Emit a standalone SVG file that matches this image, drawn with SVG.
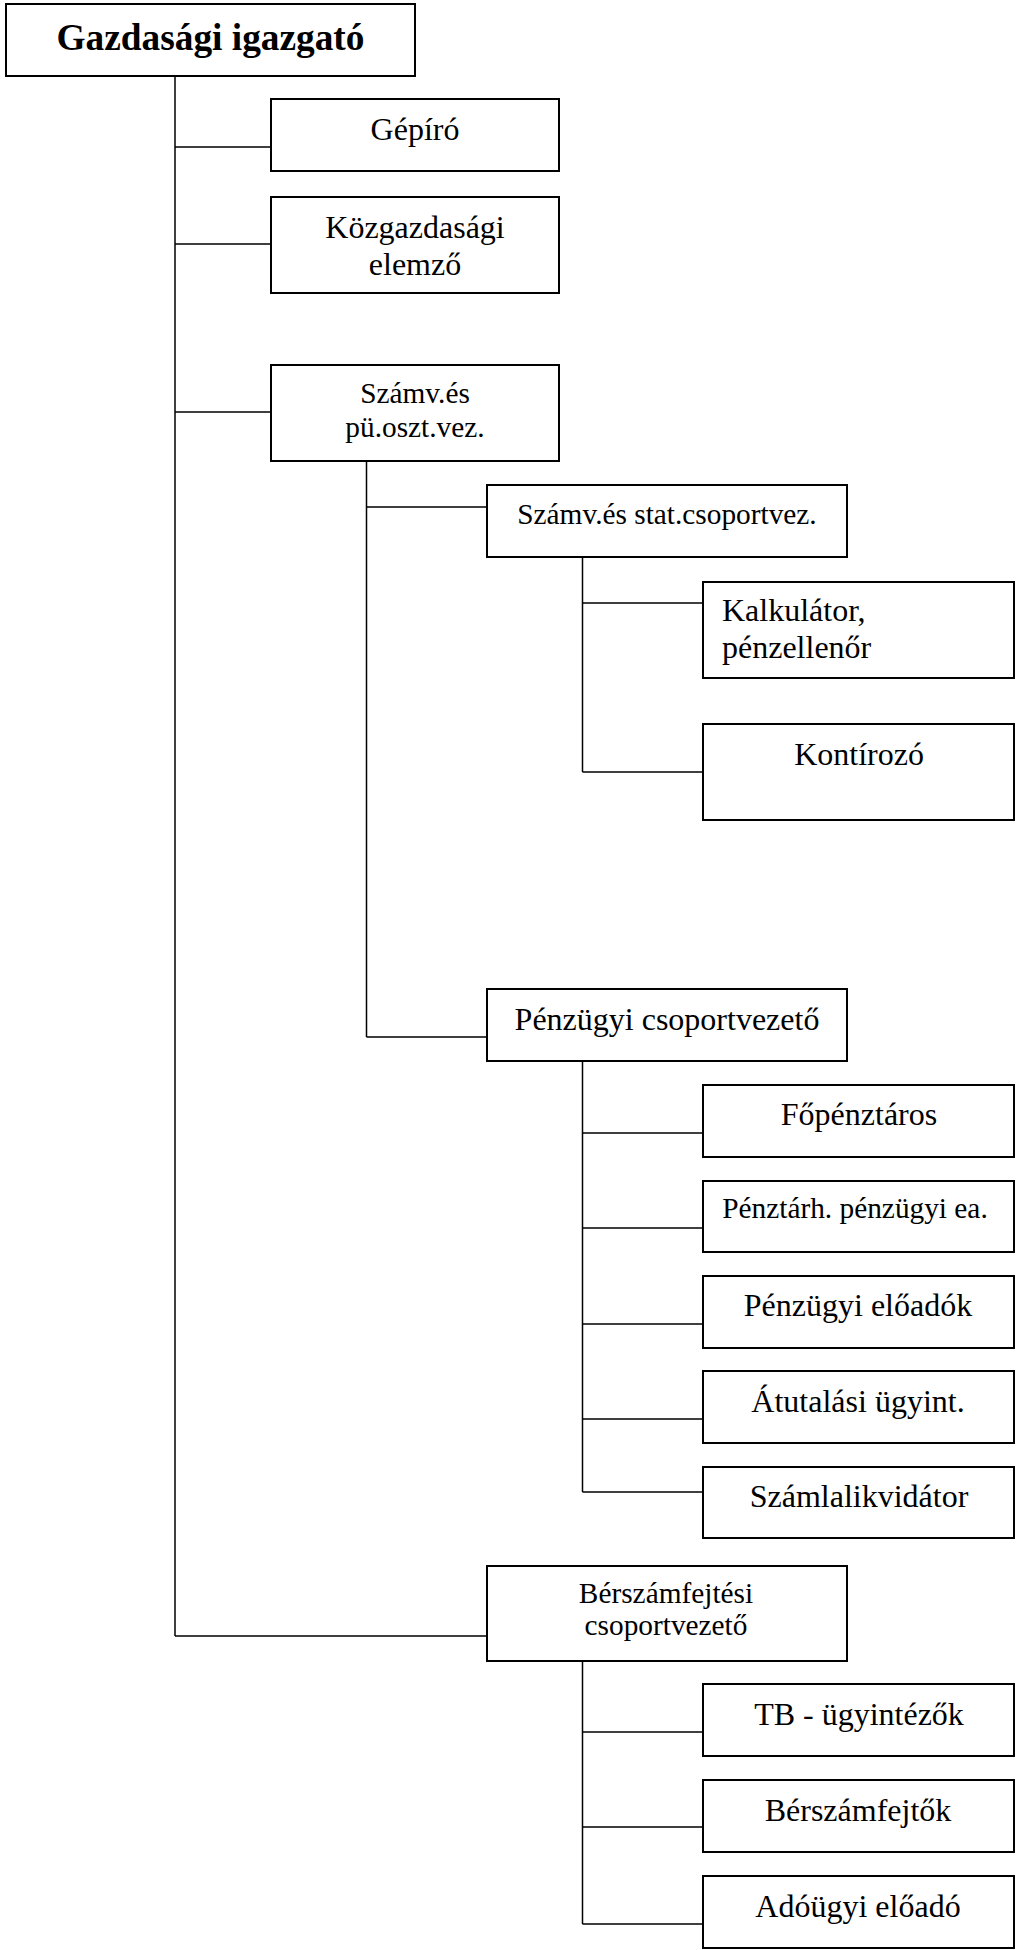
<svg xmlns="http://www.w3.org/2000/svg" width="1016" height="1950" viewBox="0 0 1016 1950">
<style>
.box{fill:#fff;stroke:#000;stroke-width:2}
.c{fill:none;stroke:#000;stroke-width:1.5}
text{font-family:"Liberation Serif","Times New Roman",serif;fill:#000;font-size:32px}
.m{text-anchor:middle}
.s{font-size:29.33px}
.b{font-size:37.33px;font-weight:bold}
</style>
<rect width="1016" height="1950" fill="#fff"/>
<g id="connectors">
<path class="c" d="M175 76V1636M175 147H271M175 244H271M175 412H271M175 1636H487"/>
<path class="c" d="M366.5 461V1037M366.5 507H487M366.5 1037H487"/>
<path class="c" d="M582.5 557V772M582.5 603H703M582.5 772H703"/>
<path class="c" d="M582.5 1061V1492M582.5 1133H703M582.5 1228H703M582.5 1324H703M582.5 1419H703M582.5 1492H703"/>
<path class="c" d="M582.5 1661V1924M582.5 1732H703M582.5 1827H703M582.5 1924H703"/>
</g>
<g id="n-root"><rect class="box" x="6" y="4" width="409" height="72"/><text class="m b" x="210.5" y="50">Gazdasági igazgató</text></g>
<g id="n-gepiro"><rect class="box" x="271" y="99" width="288" height="72"/><text class="m" x="415" y="140">Gépíró</text></g>
<g id="n-kozgazd"><rect class="box" x="271" y="197" width="288" height="96"/><text class="m" x="415" y="238">Közgazdasági</text><text class="m" x="415" y="275">elemző</text></g>
<g id="n-szamv-pu"><rect class="box" x="271" y="365" width="288" height="96"/><text class="m s" x="415" y="403">Számv.és</text><text class="m s" x="415" y="437">pü.oszt.vez.</text></g>
<g id="n-szamv-stat"><rect class="box" x="487" y="485" width="360" height="72"/><text class="m s" x="667" y="524">Számv.és stat.csoportvez.</text></g>
<g id="n-kalk"><rect class="box" x="703" y="582" width="311" height="96"/><text x="722" y="621">Kalkulátor,</text><text x="722" y="658">pénzellenőr</text></g>
<g id="n-kontir"><rect class="box" x="703" y="724" width="311" height="96"/><text class="m" x="859" y="765">Kontírozó</text></g>
<g id="n-penzugyi-cs"><rect class="box" x="487" y="989" width="360" height="72"/><text class="m" x="667" y="1030">Pénzügyi csoportvezető</text></g>
<g id="n-fopenz"><rect class="box" x="703" y="1085" width="311" height="72"/><text class="m" x="859" y="1125">Főpénztáros</text></g>
<g id="n-penztarh"><rect class="box" x="703" y="1181" width="311" height="71"/><text class="m s" x="855" y="1218">Pénztárh. pénzügyi ea.</text></g>
<g id="n-penz-eloadok"><rect class="box" x="703" y="1276" width="311" height="72"/><text class="m" x="858" y="1316">Pénzügyi előadók</text></g>
<g id="n-atutal"><rect class="box" x="703" y="1371" width="311" height="72"/><text class="m" x="858" y="1412">Átutalási ügyint.</text></g>
<g id="n-szamlalik"><rect class="box" x="703" y="1467" width="311" height="71"/><text class="m" x="859" y="1507">Számlalikvidátor</text></g>
<g id="n-berszam-cs"><rect class="box" x="487" y="1566" width="360" height="95"/><text class="m s" x="666" y="1603">Bérszámfejtési</text><text class="m s" x="666" y="1635">csoportvezető</text></g>
<g id="n-tb"><rect class="box" x="703" y="1684" width="311" height="72"/><text class="m" x="859" y="1725">TB - ügyintézők</text></g>
<g id="n-berszamf"><rect class="box" x="703" y="1780" width="311" height="72"/><text class="m" x="858" y="1821">Bérszámfejtők</text></g>
<g id="n-adougyi"><rect class="box" x="703" y="1876" width="311" height="72"/><text class="m" x="858" y="1917">Adóügyi előadó</text></g>
</svg>
